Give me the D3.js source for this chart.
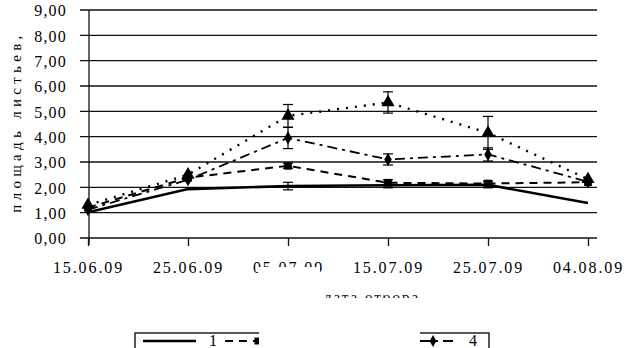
<!DOCTYPE html>
<html>
<head>
<meta charset="utf-8">
<script src="https://cdn.jsdelivr.net/npm/d3@7"></script>
<style>
  body { margin: 0; background: #fff; }
  text { font-family: "Liberation Serif", "Times New Roman", serif; fill: #000; }
</style>
</head>
<body>
<div id="chart"></div>
<script>
// Data
const dates = ["15.06.09", "25.06.09", "05.07.09", "15.07.09", "25.07.09", "04.08.09"];
const yTicks = [0, 1, 2, 3, 4, 5, 6, 7, 8, 9];

const s1 = [1.02, 1.93, 2.05, 2.08, 2.1, 1.38];
const s2 = [1.2, 2.38, 2.85, 2.18, 2.15, 2.2];
const s3 = [1.3, 2.5, 4.82, 5.35, 4.15, 2.32];
const s4 = [1.12, 2.3, 3.95, 3.1, 3.3, 2.22];

const err1 = [null, null, 0.15, 0.1, 0.12, null];
const err2 = [null, null, 0.1, 0.12, 0.1, null];
const err3 = [null, null, 0.45, 0.42, 0.65, null];
const err4 = [null, null, 0.42, 0.22, 0.26, null];

const legendLabels = ["1", "2", "3", "4"];

const width = 629;
const height = 348;

const parse = d3.timeParse("%d.%m.%y");

const svg = d3
  .select("#chart")
  .append("svg")
  .attr("width", width)
  .attr("height", height);

// Scales
const x = d3
  .scaleTime()
  .domain([parse(dates[0]), parse(dates[dates.length - 1])])
  .range([88, 588]);

const y = d3.scaleLinear().domain([0, 9]).range([238, 10]);

// Grid
svg
  .append("g")
  .selectAll("line")
  .data(yTicks)
  .enter()
  .append("line")
  .attr("x1", 80)
  .attr("x2", 597)
  .attr("y1", (d) => y(d))
  .attr("y2", (d) => y(d))
  .attr("stroke", "#111")
  .attr("stroke-width", 1.3);

// Axes
const yAxis = svg
  .append("g")
  .attr("transform", "translate(89,0)")
  .call(
    d3
      .axisLeft(y)
      .tickValues(yTicks)
      .tickSize(0)
      .tickPadding(22)
      .tickFormat((d) => d3.format(".2f")(d).replace(".", ","))
  );
yAxis.select(".domain").remove();
yAxis
  .selectAll("text")
  .style("font-size", "16px")
  .style("letter-spacing", "1.2px")
  .attr("dy", "0.36em");

svg
  .append("line")
  .attr("x1", 89)
  .attr("x2", 89)
  .attr("y1", 10)
  .attr("y2", 245)
  .attr("stroke", "#111")
  .attr("stroke-width", 1.3);

const xAxis = svg
  .append("g")
  .attr("transform", "translate(0,238)")
  .call(
    d3
      .axisBottom(x)
      .tickValues(dates.map(parse))
      .tickSize(8)
      .tickSizeOuter(0)
      .tickPadding(16)
      .tickFormat(d3.timeFormat("%d.%m.%y"))
  );
xAxis.select(".domain").remove();
xAxis.selectAll("line").attr("stroke", "#111").attr("stroke-width", 1.3);
xAxis
  .selectAll("text")
  .style("font-size", "16px")
  .style("letter-spacing", "1.9px");

// Axis title (y)
svg
  .append("text")
  .attr("transform", "translate(21,122) rotate(-90)")
  .attr("text-anchor", "middle")
  .style("font-size", "15px")
  .style("letter-spacing", "4.3px")
  .text("площадь листьев,");

// Series
const series = [
  { values: s1, err: err1, dash: null, w: 2.6, symbol: null },
  { values: s2, err: err2, dash: "8,6", w: 2, symbol: d3.symbolSquare, size: 60 },
  { values: s3, err: err3, dash: "2,7", w: 2.4, symbol: d3.symbolTriangle, size: 75 },
  { values: s4, err: err4, dash: "10,5,3,5", w: 1.8, symbol: d3.symbolDiamond, size: 50 },
];

const line = d3
  .line()
  .x((d, i) => x(parse(dates[i])))
  .y((d) => y(d));

series.forEach((s) => {
  svg
    .append("path")
    .attr("d", line(s.values))
    .attr("fill", "none")
    .attr("stroke", "#000")
    .attr("stroke-width", s.w)
    .attr("stroke-dasharray", s.dash);

  // Error bars
  const eb = s.values
    .map((v, i) => ({ v: v, e: s.err[i], d: dates[i] }))
    .filter((d) => d.e !== null);
  const g = svg.append("g").attr("stroke", "#000").attr("stroke-width", 1.2);
  eb.forEach((d) => {
    const cx = x(parse(d.d));
    g.append("line")
      .attr("x1", cx).attr("x2", cx)
      .attr("y1", y(d.v + d.e)).attr("y2", y(d.v - d.e));
    [d.v + d.e, d.v - d.e].forEach((t) => {
      g.append("line")
        .attr("x1", cx - 5).attr("x2", cx + 5)
        .attr("y1", y(t)).attr("y2", y(t));
    });
  });

  if (s.symbol) {
    svg
      .append("g")
      .selectAll("path")
      .data(s.values)
      .enter()
      .append("path")
      .attr("transform", (d, i) => `translate(${x(parse(dates[i]))},${y(d)})`)
      .attr("d", d3.symbol().type(s.symbol).size(s.size))
      .attr("fill", "#000");
  }
});

// X axis title (mostly erased in the source)
const defs = svg.append("defs");
defs
  .append("clipPath")
  .attr("id", "titleclip")
  .append("rect")
  .attr("x", 320)
  .attr("y", 295)
  .attr("width", 110)
  .attr("height", 3);

svg
  .append("text")
  .attr("clip-path", "url(#titleclip)")
  .attr("x", 372)
  .attr("y", 302)
  .attr("text-anchor", "middle")
  .style("font-size", "15px")
  .style("letter-spacing", "2px")
  .text("дата отбора");

// Legend
const legend = svg.append("g");
legend
  .append("rect")
  .attr("x", 135)
  .attr("y", 333)
  .attr("width", 354)
  .attr("height", 30)
  .attr("fill", "#fff")
  .attr("stroke", "#000")
  .attr("stroke-width", 1.3);

// line start, line end, marker x, label x
const legendPos = [
  [143, 196, null, 209],
  [225, 258, 258, 270],
  [300, 340, 320, 350],
  [420, 458, 433, 469],
];
series.forEach((s, i) => {
  const p = legendPos[i];
  legend
    .append("line")
    .attr("x1", p[0])
    .attr("x2", p[1])
    .attr("y1", 341)
    .attr("y2", 341)
    .attr("stroke", "#000")
    .attr("stroke-width", s.w)
    .attr("stroke-dasharray", s.dash);
  if (s.symbol) {
    legend
      .append("path")
      .attr("transform", `translate(${p[2]},341)`)
      .attr("d", d3.symbol().type(s.symbol).size(s.size * 0.8))
      .attr("fill", "#000");
  }
  legend
    .append("text")
    .attr("x", p[3])
    .attr("y", 346)
    .style("font-size", "16px")
    .text(legendLabels[i]);
});

// Erased patch of the source picture
svg
  .append("rect")
  .attr("x", 259)
  .attr("y", 300)
  .attr("width", 161)
  .attr("height", 48)
  .attr("fill", "#fff");
svg
  .append("rect")
  .attr("x", 258)
  .attr("y", 267)
  .attr("width", 62)
  .attr("height", 33)
  .attr("fill", "#fff");
</script>
</body>
</html>
